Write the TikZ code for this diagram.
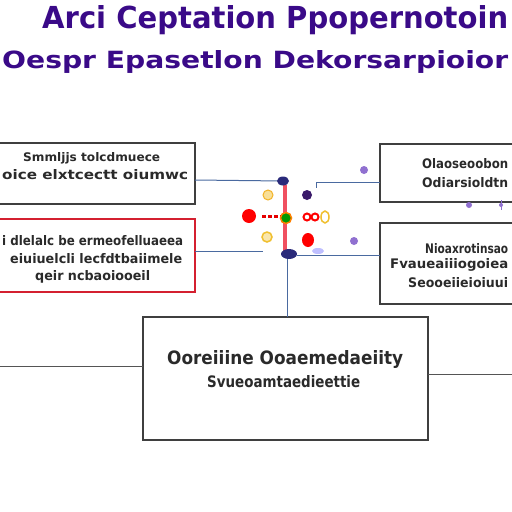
\documentclass[tikz,border=0pt]{standalone}
\usepackage{fontspec}
\setmainfont{DejaVu Sans}
\usepackage{graphicx}
\definecolor{ttl}{HTML}{3A0A88}
\definecolor{txt}{HTML}{2A2A2A}
\definecolor{conn}{HTML}{4A6AA0}
\definecolor{bred}{HTML}{D42030}
\definecolor{navy}{HTML}{2A2A7A}
\definecolor{dpur}{HTML}{3A1A6A}
\definecolor{lpur}{HTML}{9070D0}
\definecolor{yel}{HTML}{F0C030}
\definecolor{pinkbar}{HTML}{F05060}
\newcommand{\fitt}[3]{\resizebox{#1pt}{#2pt}{#3}}
\tikzset{
  lbl/.style={anchor=base west, inner sep=0pt, text=txt, font=\bfseries},
  ttlbl/.style={anchor=base west, inner sep=0pt, text=ttl, font=\bfseries},
  boxg/.style={draw=txt!90, line width=1.3pt, fill=white},
  boxr/.style={draw=bred, line width=1.3pt, fill=white},
  cn/.style={draw=conn, line width=1pt},
  cng/.style={draw=txt!80, line width=0.8pt},
}
\begin{document}
\begin{tikzpicture}[x=1pt,y=-1pt]
\useasboundingbox (0,0) rectangle (512,512);
\fill[white] (0,0) rectangle (512,512);
% title
\node[ttlbl] (t1) at (42,28) {\fitt{466}{23}{Arci Ceptation Ppopernotoin}};
\node[ttlbl] (t2) at (2,68) {\fitt{506}{18}{Oespr Epasetlon Dekorsarpioior}};
% boxes
\draw[boxg] (-5,143) rectangle (195,204);
\coordinate (b1e) at (195,180);
\draw[boxr] (-5,219) rectangle (195,292);
\coordinate (b2e) at (195,251);
\draw[boxg] (380,144) rectangle (520,202);
\coordinate (r1w) at (380,182);
\draw[boxg] (380,223) rectangle (520,304);
\coordinate (r2w) at (380,255);
\draw[boxg] (143,317) rectangle (428,440);
\coordinate (bn) at (287,317);
\coordinate (bw) at (143,366);
\coordinate (be) at (428,374);
% box texts
\node[lbl] (b1l1) at (23,161) {\fitt{137}{9}{Smmljjs tolcdmuece}};
\node[lbl] (b1l2) at (2,179) {\fitt{186}{10}{oice elxtcectt oiumwc}};
\node[lbl] (b2l1) at (2,245) {\fitt{181}{10}{i dlelalc be ermeofelluaeea}};
\node[lbl] (b2l2) at (10,263) {\fitt{172}{10}{eiuiuelcli lecfdtbaiimele}};
\node[lbl] (b2l3) at (35,280) {\fitt{115}{10}{qeir ncbaoiooeil}};
\node[lbl] (r1l1) at (422,168) {\fitt{86}{10}{Olaoseoobon}};
\node[lbl] (r1l2) at (422,187) {\fitt{86}{10}{Odiarsioldtn}};
\node[lbl] (r2l1) at (425,253) {\fitt{83}{10}{Nioaxrotinsao}};
\node[lbl] (r2l2) at (390,268) {\fitt{118}{10}{Fvaueaiiiogoiea}};
\node[lbl] (r2l3) at (408,287) {\fitt{100}{10}{Seooeiieioiuui}};
\node[lbl] (bl1) at (167,364) {\fitt{236}{14}{Ooreiiine Ooaemedaeiity}};
\node[lbl] (bl2) at (207,387) {\fitt{153}{12}{Svueoamtaedieettie}};
% central cluster coordinates
\coordinate (ctop) at (283,181);
\coordinate (cbot) at (289,254);
\coordinate (cv) at (287,258);
\coordinate (b2end) at (263,251);
\coordinate (r1k) at (316,182);
\coordinate (r1kd) at (316,188);
\coordinate (r2end) at (297,255);
\coordinate (cl) at (0,366);
\coordinate (cr) at (512,374);
% connectors
\draw[cn] (b1e) -- (ctop);
\draw[cn] (b2e) -- (b2end);
\draw[cn] (r1w) -- (r1k) -- (r1kd);
\draw[cn] (r2w) -- (r2end);
\draw[cn] (cv) -- (bn);
\draw[cng] (bw) -- (cl);
\draw[cng] (be) -- (cr);
% cluster
\draw[pinkbar, line width=4pt] (285,185) -- (285,253);
\draw[red!90!black, line width=3pt, dash pattern=on 4pt off 2pt] (262,216) -- (282,216);
\fill[navy] (ctop) ellipse (6 and 4.5);
\fill[dpur] (307,195) circle (5);
\draw[yel!80!orange, line width=1pt, fill=yel!50] (268,195) circle (5);
\fill[red] (249,216) circle (7);
\draw[orange, line width=1.5pt, fill=green!60!black] (286,218) circle (5.5);
\draw[red, line width=2pt] (307,217) ellipse (3.5 and 3.5) (315,217) ellipse (3.5 and 3.5);
\draw[yel, line width=1.5pt, fill=white] (325,217) ellipse (4 and 6);
\draw[yel, line width=1.5pt, fill=yel!40] (267,237) circle (5);
\fill[red] (308,240) ellipse (6 and 7);
\fill[navy] (cbot) ellipse (8 and 5);
\fill[blue!25] (318,251) ellipse (6 and 3);
% purple dots
\fill[lpur] (364,170) circle (4);
\fill[lpur] (354,241) circle (4);
\fill[lpur] (469,205) circle (3);
\draw[lpur, line width=1pt] (501,200) -- (501,210);
\fill[lpur] (501,205) circle (2);
\end{tikzpicture}
\end{document}
